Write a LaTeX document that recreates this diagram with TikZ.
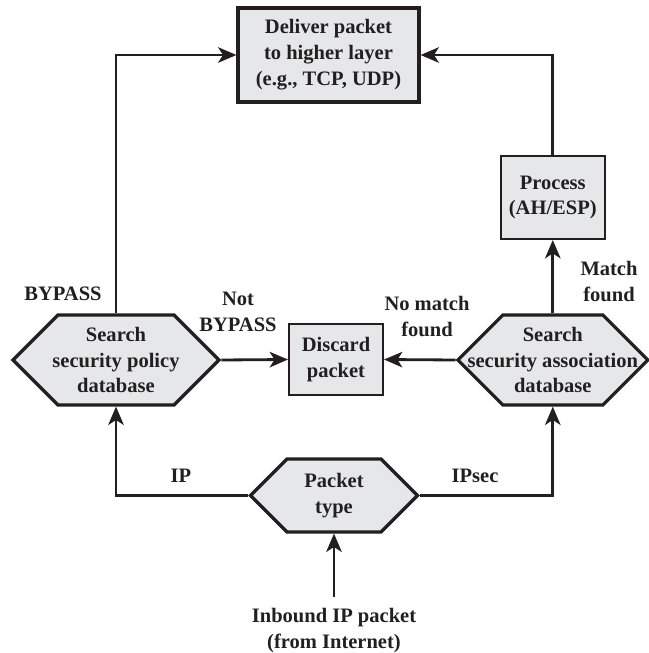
\documentclass[tikz,border=0pt]{standalone}
\usepackage{fontspec}
\setmainfont{Liberation Serif}
\usetikzlibrary{shapes.symbols, arrows.meta}
\definecolor{boxgray}{RGB}{230,231,232}
\definecolor{inkdark}{RGB}{35,31,32}
\newcommand{\flowfont}{\fontsize{14.6pt}{18.4pt}\selectfont\bfseries}

\begin{document}
\begin{tikzpicture}[
  every node/.style={font=\flowfont, text=inkdark, align=center},
  procbox/.style={draw=inkdark, rectangle, fill=boxgray, line width=1.5pt, inner sep=0pt},
  hexbox/.style={draw=inkdark, signal, signal to=west and east, signal pointer angle=90, fill=boxgray, line width=2.3pt, inner xsep=-1.5cm, inner ysep=0pt},
  flow/.style={draw=inkdark, line width=2pt, -{Stealth[length=13pt, width=11pt, inset=3.5pt]}}
]
\useasboundingbox (0,0) rectangle (16.225,16.325);

% Upper layer
\node[procbox, line width=2.3pt, minimum width=4.525cm, minimum height=2.35cm] (deliver) at (8.2125,14.95) {Deliver packet\\to higher layer\\(e.g., TCP, UDP)};

% IPsec processing and discard
\node[procbox, minimum width=2.6cm, minimum height=2.075cm] (process) at (13.82,11.3875) {Process\\(AH/ESP)};
\node[procbox, minimum width=2.35cm, minimum height=1.775cm] (discard) at (8.4,7.3375) {Discard\\packet};

% Database searches
\node[hexbox, minimum width=5.15cm, minimum height=2.25cm] (spd) at (2.9,7.325) {Search\\security policy\\database};
\node[hexbox, minimum width=4.75cm, minimum height=2.25cm] (sad) at (13.82,7.325) {Search\\security association\\database};

% Packet type decision
\node[hexbox, minimum width=4.175cm, minimum height=1.825cm] (ptype) at (8.35,3.9375) {Packet\\type};
\node[anchor=north, inner ysep=0.28cm] (inbound) at (8.35,1.4) {Inbound IP packet\\(from Internet)};

% Connectors
\draw[flow] (spd.north) |- (deliver.west);
\draw[flow] (process.north) |- (deliver.east);
\draw[flow] (sad.north) -- (process.south);
\draw[flow] (spd.east) -- (discard.west);
\draw[flow] (sad.west) -- (discard.east);
\draw[flow] (ptype.west) -| (spd.south);
\draw[flow] (ptype.east) -| (sad.south);
\draw[flow] (inbound.north) -- (ptype.south);

% Branch labels
\node (bypass) at (1.575,8.975) {BYPASS};
\node (notbypass) at (5.95,8.525) {Not\\BYPASS};
\node (nomatch) at (10.675,8.4125) {No match\\found};
\node (match) at (15.225,9.2875) {Match\\found};
\node (ip) at (4.525,4.425) {IP};
\node (ipsec) at (11.875,4.425) {IPsec};

\end{tikzpicture}
\end{document}
